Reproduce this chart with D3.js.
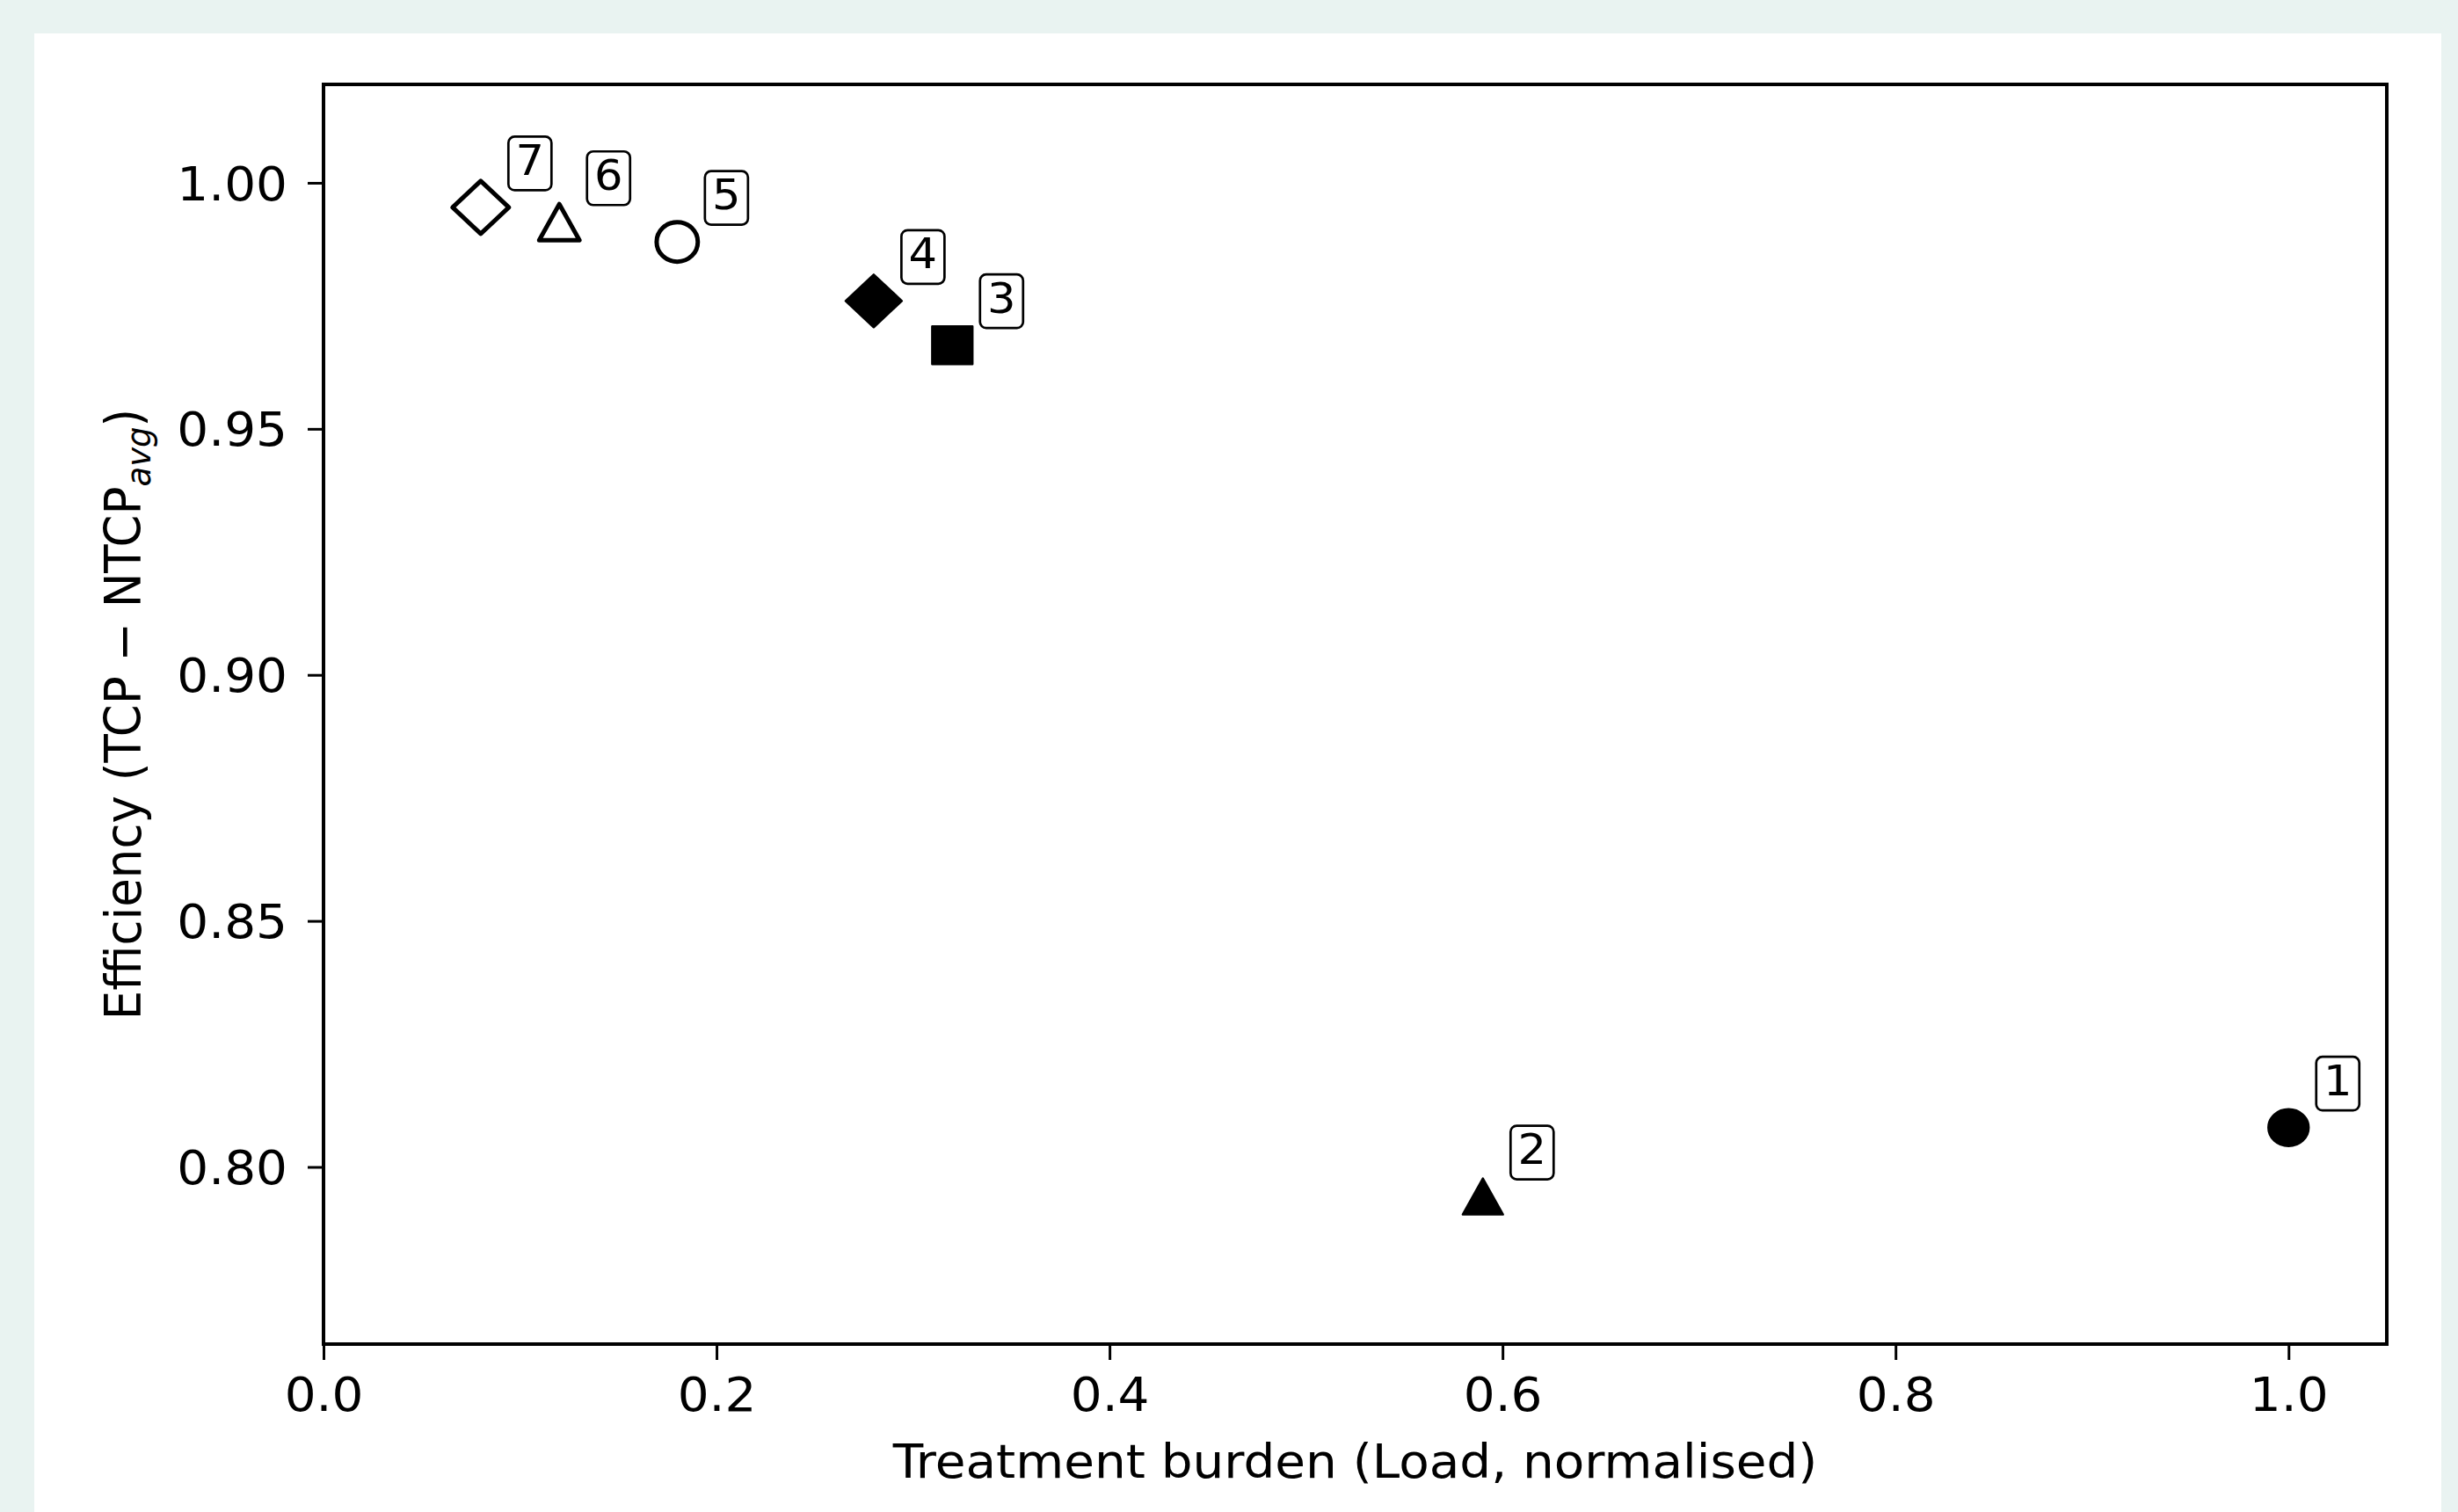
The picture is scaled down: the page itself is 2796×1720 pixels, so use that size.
<!DOCTYPE html>
<html lang="en">
<head>
    <meta charset="UTF-8">
    <title>Efficiency vs treatment burden</title>
    <script src="https://d3js.org/d3.v7.min.js"></script>
    <style>
        html, body {
            margin: 0;
            padding: 0;
            background: #e9f3f1;
        }
        svg {
            display: block;
            font-family: "DejaVu Sans", sans-serif;
        }
        .axis text {
            font-size: 53px;
            fill: #000;
        }
        .axis path, .axis line {
            stroke: #000;
        }
        .axis-label {
            font-size: 53px;
            fill: #000;
        }
        .point-label {
            font-size: 48px;
            fill: #000;
            text-anchor: middle;
        }
    </style>
</head>
<body>
    <svg width="2796" height="1720"></svg>

    <script>
        // Data
        const labels = ["1", "2", "3", "4", "5", "6", "7"];
        const burden = [1.00, 0.59, 0.32, 0.28, 0.18, 0.12, 0.08];
        const efficiency = [0.808, 0.794, 0.967, 0.976, 0.988, 0.992, 0.995];
        const shapes = ["circle", "triangle", "square", "diamond", "circle", "triangle", "diamond"];
        const filled = [true, true, true, true, false, false, false];

        const xTicks = [0.0, 0.2, 0.4, 0.6, 0.8, 1.0];
        const yTicks = [0.80, 0.85, 0.90, 0.95, 1.00];
        const xDomain = [0, 1.05];
        const yDomain = [0.764, 1.02];

        // Layout (pixels)
        const margin = {top: 96, right: 81, bottom: 191, left: 368};
        const W = 2796, H = 1720;
        const width = W - margin.left - margin.right;
        const height = H - margin.top - margin.bottom;

        // the source figure is a little wider than tall; stretch x to match
        const sx = 1.065;

        const svg = d3.select("svg");

        // white figure panel on the mint page
        svg.append("rect")
            .attr("x", 39).attr("y", 38)
            .attr("width", 2738).attr("height", H - 38)
            .attr("fill", "#fff");

        const g = svg.append("g")
            .attr("transform", `translate(${margin.left},${margin.top})`);

        const x = d3.scaleLinear().domain(xDomain).range([0, width]);
        const y = d3.scaleLinear().domain(yDomain).range([height, 0]);

        // axes
        const xAxis = g.append("g")
            .attr("class", "axis")
            .attr("transform", `translate(0,${height})`)
            .call(d3.axisBottom(x).tickValues(xTicks).tickFormat(d3.format(".1f"))
                .tickSize(18).tickSizeOuter(0).tickPadding(20));

        const yAxis = g.append("g")
            .attr("class", "axis")
            .call(d3.axisLeft(y).tickValues(yTicks).tickFormat(d3.format(".2f"))
                .tickSize(18).tickSizeOuter(0).tickPadding(23));

        g.selectAll(".axis .domain").remove();
        g.selectAll(".axis line").attr("stroke-width", 3);
        g.selectAll(".axis text").attr("font-family", "DejaVu Sans");
        yAxis.selectAll("text").attr("dy", "0.36em");

        // widen tick labels about their anchor
        g.selectAll(".axis text").each(function() {
            const t = d3.select(this);
            const tx = +t.attr("x") || 0;
            t.attr("x", tx / sx).attr("transform", `scale(${sx},1)`);
        });

        // frame
        g.append("rect")
            .attr("width", width).attr("height", height)
            .attr("fill", "none")
            .attr("stroke", "#000")
            .attr("stroke-width", 4);

        // axis titles
        g.append("text")
            .attr("class", "axis-label")
            .attr("transform", `translate(${width / 2},${height + 152}) scale(${sx},1)`)
            .attr("text-anchor", "middle")
            .text("Treatment burden (Load, normalised)");

        const yl = g.append("text")
            .attr("class", "axis-label")
            .attr("transform", `translate(${160 - margin.left},${height / 2}) scale(${sx},1) rotate(-90)`)
            .attr("text-anchor", "middle");
        yl.append("tspan").text("Efficiency (TCP \u2212 NTCP");
        yl.append("tspan").attr("font-size", "37px").attr("font-style", "italic")
            .attr("dy", 10).text("avg");
        yl.append("tspan").attr("dy", -10).text(")");

        function markerPath(shape) {
            const p = d3.path();
            if (shape === "square") {
                const h = 21.5;
                p.rect(-h * sx, -h, 2 * h * sx, 2 * h);
                return p.toString();
            }
            if (shape === "diamond") {
                const h = 30;
                p.moveTo(0, -h); p.lineTo(h * sx, 0); p.lineTo(0, h); p.lineTo(-h * sx, 0);
                p.closePath();
                return p.toString();
            }
            // triangle pointing up, centred between apex and base
            const h = 20.5, w = 21.5;
            p.moveTo(0, -h); p.lineTo(w * sx, h); p.lineTo(-w * sx, h);
            p.closePath();
            return p.toString();
        }

        const pts = labels.map((d, i) => ({
            label: d, x: burden[i], y: efficiency[i], shape: shapes[i], filled: filled[i]
        }));

        const marks = g.selectAll(".mark")
            .data(pts)
            .join("g")
            .attr("class", "mark")
            .attr("transform", d => `translate(${x(d.x)},${y(d.y)})`);

        marks.each(function(d) {
            const m = d3.select(this);
            if (d.shape === "circle") {
                m.append("ellipse")
                    .attr("rx", 22 * sx - (d.filled ? 0.5 : 0))
                    .attr("ry", d.filled ? 21 : 22.5);
            } else {
                m.append("path").attr("d", markerPath(d.shape));
            }
            m.select(":first-child")
                .attr("fill", d.filled ? "#000" : "#fff")
                .attr("stroke", "#000")
                .attr("stroke-width", d.filled ? 2.5 : 5)
                .attr("stroke-linejoin", "round");
        });

        // numbered labels in small rounded boxes, offset up-right of each marker
        const lab = marks.append("g")
            .attr("transform", "translate(56,-50)");
        lab.append("rect")
            .attr("x", -24.5).attr("y", -30.5)
            .attr("width", 49).attr("height", 61)
            .attr("rx", 7)
            .attr("fill", "#fff")
            .attr("stroke", "#000")
            .attr("stroke-width", 2.7);
        lab.append("text")
            .attr("class", "point-label")
            .attr("transform", `scale(${sx},1)`)
            .attr("y", 13)
            .text(d => d.label);
    </script>
</body>
</html>
